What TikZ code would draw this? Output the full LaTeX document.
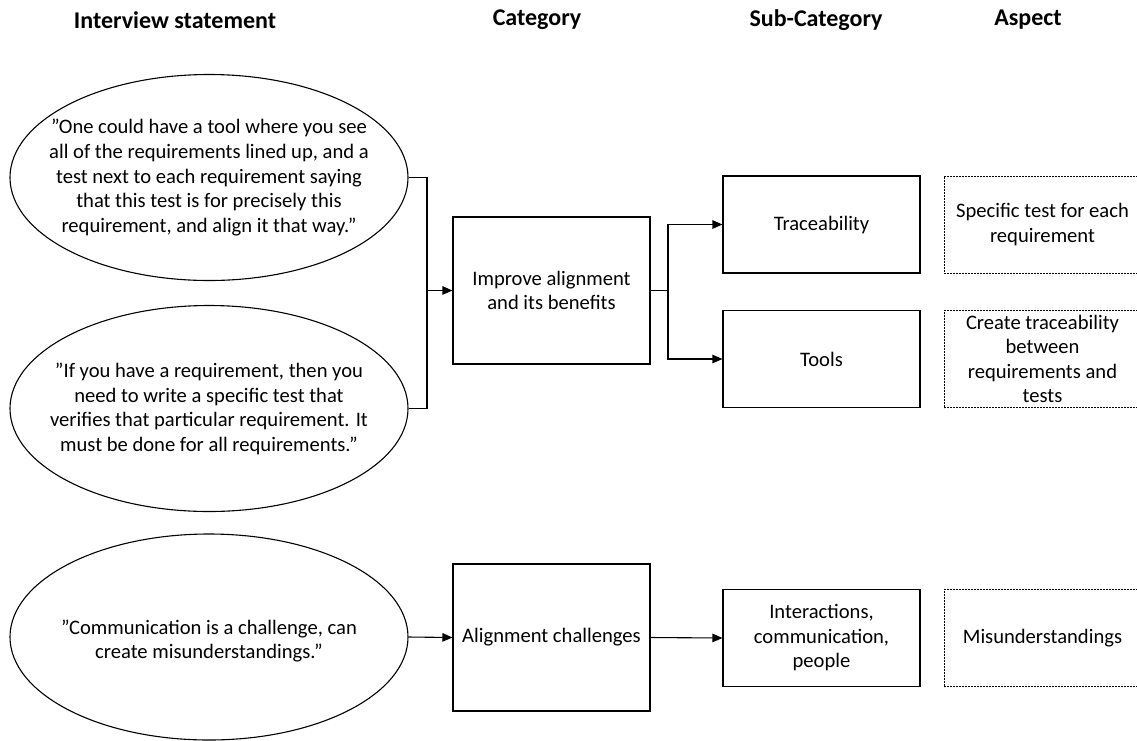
\documentclass[tikz,border=0pt]{standalone}
\usepackage{fontspec}
\setmainfont{Carlito}
\usetikzlibrary{shapes.geometric,arrows.meta}

\tikzset{
  txt/.style={font=\fontsize{20.6}{24.5}\selectfont, align=center},
  head/.style={font=\fontsize{24}{28}\selectfont\bfseries},
  bubble/.style={draw, ellipse, line width=1.1pt, inner sep=0pt,
    minimum width=398pt, minimum height=206pt},
  catbox/.style={draw, rectangle, line width=1.1pt, inner sep=0pt, txt,
    minimum width=197pt, minimum height=147pt},
  subbox/.style={draw, rectangle, line width=1.1pt, inner sep=0pt, txt,
    minimum width=197pt, minimum height=97pt},
  aspbox/.style={draw, rectangle, line width=0.9pt, dash pattern=on 2pt off 1pt,
    inner sep=0pt, txt, minimum width=197pt, minimum height=97pt},
  link/.style={line width=1.1pt},
  arr/.style={link, -{Triangle[length=10pt,width=8.5pt]}}
}

\begin{document}
\begin{tikzpicture}[x=1pt,y=-1pt]
\useasboundingbox (0,0) rectangle (1137,740);
\clip (0,0) rectangle (1137,740);

% column headings
\node[head] (h1) at (175,20) {Interview statement};
\node[head] (h2) at (537,20) {Category};
\node[head] (h3) at (816,20) {Sub-Category};
\node[head] (h4) at (1028,20) {Aspect};

% interview statements
\node[bubble] (e1) at (209,177.5) {};
\node[txt] (e1t) at (209,177.5) {”One could have a tool where you see\\all of the requirements lined up, and a\\test next to each requirement saying\\that this test is for precisely this\\requirement, and align it that way.”};

\node[bubble] (e2) at (209,408.5) {};
\node[txt] (e2t) at (209,409) {”If you have a requirement, then you\\need to write a specific test that\\verifies that particular requirement. It\\must be done for all requirements.”};

\node[bubble] (e3) at (209,637) {};
\node[txt] (e3t) at (209,641) {”Communication is a challenge, can\\create misunderstandings.”};

% categories
\node[catbox] (imp) at (551.5,290.5) {Improve alignment\\and its benefits};
\node[catbox] (ach) at (551.5,637.5) {Alignment challenges};

% sub-categories
\node[subbox] (trc) at (821.5,224.5) {Traceability};
\node[subbox] (tls) at (821.5,359) {Tools};
\node[subbox] (icp) at (821.5,638) {Interactions,\\communication,\\people};

% aspects
\node[aspbox] (a1) at (1042.5,224.5) {Specific test for each\\requirement};
\node[aspbox] (a2) at (1042.5,359) {Create traceability\\between\\requirements and\\tests};
\node[aspbox] (a3) at (1042.5,638) {Misunderstandings};

% connectors
\coordinate (jl) at (427,290.5);
\coordinate (jr) at (668,290.5);
\draw[link] (e1.east) -| (jl) |- (e2.east);
\draw[arr] (jl) -- (imp.west);
\draw[link] (imp.east) -- (jr);
\draw[arr] (jr) |- (trc.west);
\draw[arr] (jr) |- (tls.west);
\draw[arr] (e3.east) -- (ach.west);
\draw[arr] (ach.east) -- (icp.west);
\end{tikzpicture}
\end{document}
